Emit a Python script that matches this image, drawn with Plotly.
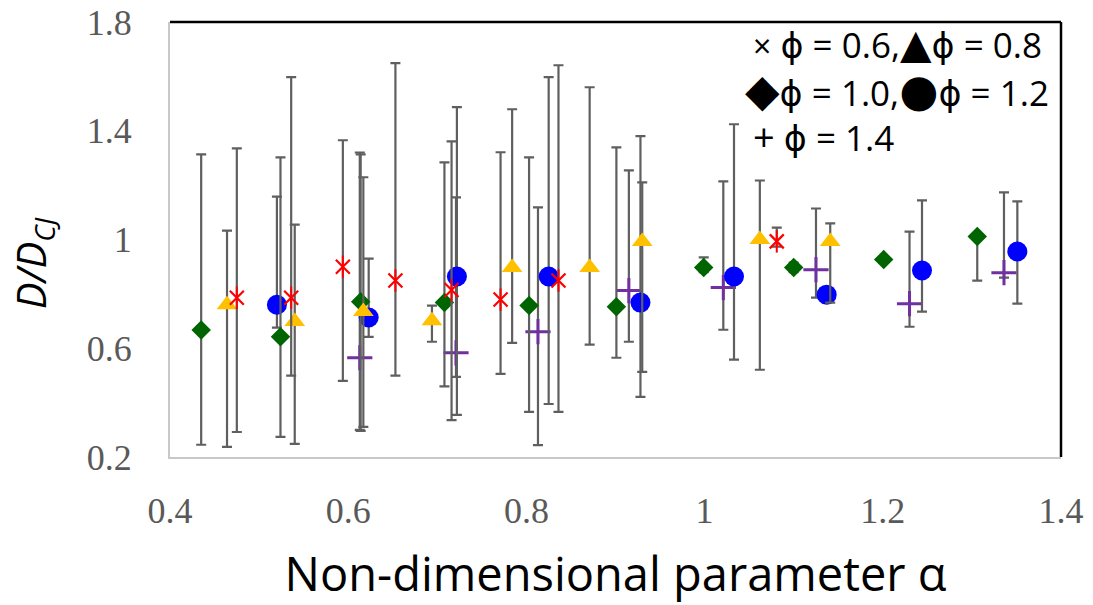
import plotly.graph_objects as go

# phi = 0.6 (red star)
x06 = [0.475, 0.536, 0.594, 0.653, 0.716, 0.771, 0.836, 1.081]
y06 = [0.786, 0.786, 0.900, 0.849, 0.814, 0.779, 0.849, 0.993]
hi06 = [1.335, 1.597, 1.365, 1.649, 1.361, 1.321, 1.641, 1.044]
lo06 = [0.292, 0.499, 0.480, 0.499, 0.336, 0.506, 0.366, 0.974]

# phi = 0.8 (yellow triangle)
x08 = [0.464, 0.540, 0.617, 0.694, 0.784, 0.871, 0.930, 1.062, 1.141]
y08 = [0.760, 0.698, 0.735, 0.701, 0.897, 0.897, 0.993, 1.000, 0.993]
hi08 = [1.033, 1.055, 1.229, 0.757, 1.479, 1.560, 1.210, 1.217, 1.059]
lo08 = [0.237, 0.248, 0.311, 0.624, 0.620, 0.613, 0.513, 0.521, 0.768]

# phi = 1.0 (green diamond)
x10 = [0.435, 0.524, 0.614, 0.708, 0.803, 0.901, 0.999, 1.100, 1.201, 1.306]
y10 = [0.667, 0.642, 0.771, 0.768, 0.757, 0.753, 0.897, 0.897, 0.926, 1.011]
hi10 = [1.313, 1.302, 1.313, 1.284, 1.302, 1.339, 0.934, 0.915, 0.935, 1.020]
lo10 = [0.245, 0.274, 0.296, 0.460, 0.366, 0.565, 0.880, 0.880, 0.915, 0.849]

# phi = 1.2 (blue circle)
x12 = [0.520, 0.623, 0.722, 0.825, 0.928, 1.033, 1.137, 1.244, 1.351]
y12 = [0.760, 0.713, 0.864, 0.864, 0.768, 0.864, 0.797, 0.886, 0.956]
hi12 = [1.158, 0.930, 1.487, 1.597, 1.380, 1.424, 0.820, 1.144, 1.140]
lo12 = [0.676, 0.642, 0.355, 0.395, 0.421, 0.558, 0.768, 0.735, 0.764]

# phi = 1.4 (purple plus)
x14 = [0.613, 0.721, 0.813, 0.915, 1.021, 1.125, 1.230, 1.336]
y14 = [0.565, 0.583, 0.661, 0.812, 0.823, 0.889, 0.764, 0.878]
hi14 = [1.320, 1.155, 1.118, 1.254, 1.214, 1.114, 1.029, 1.173]
lo14 = [0.300, 0.495, 0.244, 0.624, 0.668, 0.786, 0.679, 0.860]

x_ticks = [0.4, 0.6, 0.8, 1.0, 1.2, 1.4]
y_ticks = [0.2, 0.6, 1.0, 1.4, 1.8]

ERR = "#5f5f5f"


def err(y, hi, lo):
    return dict(type="data", symmetric=False,
                array=[h - v for h, v in zip(hi, y)],
                arrayminus=[v - l for l, v in zip(lo, y)],
                color=ERR, thickness=2.2, width=5)


fig = go.Figure()

fig.add_trace(go.Scatter(x=x14, y=y14, mode="markers", error_y=err(y14, hi14, lo14),
                         marker=dict(symbol="cross-thin-open", size=18, color="#7030A0",
                                     line=dict(color="#7030A0", width=3)),
                         showlegend=False))
fig.add_trace(go.Scatter(x=x12, y=y12, mode="markers", error_y=err(y12, hi12, lo12),
                         marker=dict(symbol="circle", size=20, color="#0000FF",
                                     line=dict(width=0)),
                         showlegend=False))
fig.add_trace(go.Scatter(x=x10, y=y10, mode="markers", error_y=err(y10, hi10, lo10),
                         marker=dict(symbol="diamond", size=15, color="#006400",
                                     line=dict(width=0)),
                         showlegend=False))
fig.add_trace(go.Scatter(x=x08, y=y08, mode="markers", error_y=err(y08, hi08, lo08),
                         marker=dict(symbol="triangle-up", size=18, color="#FFC000",
                                     line=dict(width=0)),
                         showlegend=False))
fig.add_trace(go.Scatter(x=x06, y=y06, mode="markers", error_y=err(y06, hi06, lo06),
                         marker=dict(symbol="x-thin-open", size=14, color="#FF0000",
                                     line=dict(color="#FF0000", width=2.2)),
                         showlegend=False))
fig.add_trace(go.Scatter(x=x06, y=y06, mode="markers",
                         marker=dict(symbol="line-ns-open", size=16, color="#FF0000",
                                     line=dict(color="#FF0000", width=2)),
                         showlegend=False))

tickfont = dict(family="Liberation Serif, Times New Roman, serif", size=36, color="#595959")

fig.update_layout(
    width=1093, height=605,
    margin=dict(l=162, r=40, t=14, b=156),
    paper_bgcolor="white", plot_bgcolor="white",
    xaxis=dict(range=[0.4, 1.4], tickvals=x_ticks,
               ticktext=["0.4", "0.6", "0.8", "1", "1.2", "1.4"],
               showgrid=False, zeroline=False, showline=True, linecolor="#c8c8c8",
               linewidth=2, ticks="", tickfont=tickfont, ticklabelstandoff=21,
               automargin=False, ticklabeloverflow="allow",
               title=dict(text="Non-dimensional parameter α",
                          font=dict(family="Open Sans, sans-serif", size=47, color="black"),
                          standoff=28)),
    yaxis=dict(range=[0.2, 1.8], tickvals=y_ticks,
               ticktext=["0.2", "0.6", "1", "1.4", "1.8"],
               showgrid=False, zeroline=False, showline=True, linecolor="#c8c8c8",
               linewidth=2, ticks="", tickfont=tickfont, ticklabelstandoff=29,
               automargin=False, ticklabeloverflow="allow"),
    shapes=[
        dict(type="line", xref="paper", yref="paper", x0=0, x1=1, y0=1, y1=1,
             line=dict(color="black", width=2.5)),
        dict(type="line", xref="paper", yref="paper", x0=1, x1=1, y0=0, y1=1,
             line=dict(color="black", width=2.5)),
    ],
)

# y-axis title
fig.add_annotation(text="<i>D/D<sub>CJ</sub></i>", xref="paper", yref="paper",
                   x=-0.154, y=0.445, xanchor="center", yanchor="middle",
                   textangle=-90, showarrow=False,
                   font=dict(family="Open Sans, sans-serif", size=40, color="black"))

lf = dict(family="Open Sans, DejaVu Sans, sans-serif", size=35, color="black")
legend_lines = [
    ('<span style="font-size:32px">×</span> ϕ = 0.6,<span style="font-size:41px">▲</span>ϕ = 0.8', 0.652, 0.954),
    ('<span style="font-size:45px">◆</span>ϕ = 1.0,<span style="font-size:45px">●</span>ϕ = 1.2', 0.643, 0.847),
    ('<span style="font-size:38px">+</span> ϕ = 1.4', 0.652, 0.737),
]
for txt, ax, ay in legend_lines:
    fig.add_annotation(text=txt, xref="paper", yref="paper", x=ax, y=ay,
                       xanchor="left", yanchor="middle", showarrow=False, font=lf)

fig.write_html("out.html")
